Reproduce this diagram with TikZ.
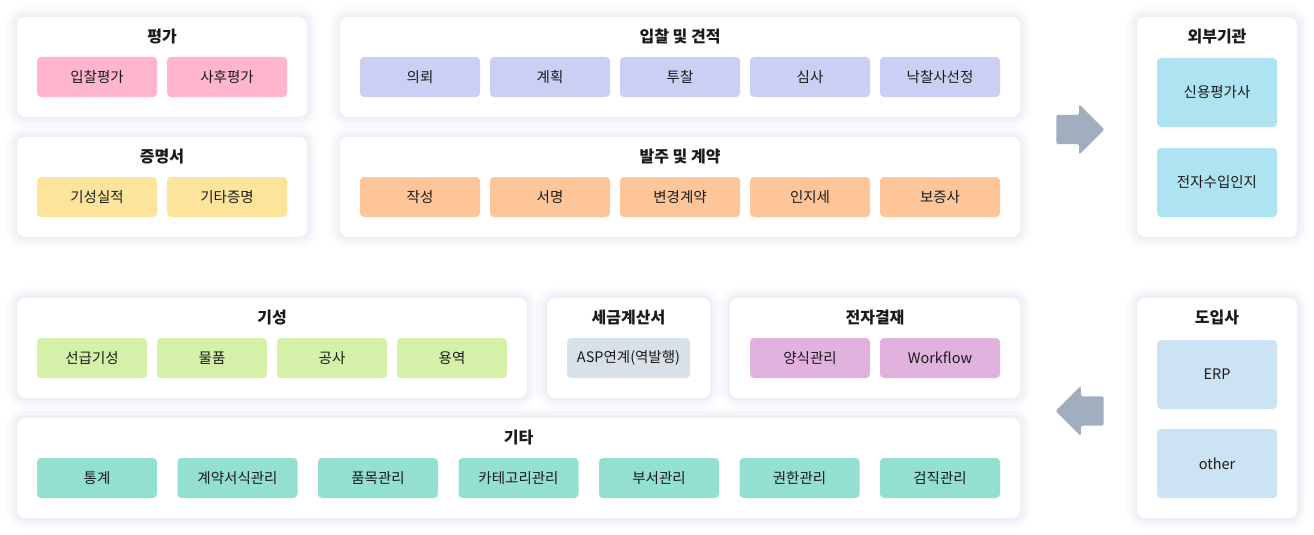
\documentclass[tikz,border=0pt]{standalone}
\usepackage{fontspec}
\setmainfont{Noto Sans CJK KR}
\usepackage{xcolor}
\usetikzlibrary{shapes,arrows,positioning}

\definecolor{pinkfill}{HTML}{FFB5CB}
\definecolor{yellowfill}{HTML}{FCE49A}
\definecolor{lavenderfill}{HTML}{CAD0F4}
\definecolor{peachfill}{HTML}{FDC598}
\definecolor{cyanfill}{HTML}{AEE3F2}
\definecolor{greenfill}{HTML}{D5F0A8}
\definecolor{grayfill}{HTML}{D9E1E8}
\definecolor{orchidfill}{HTML}{E2B2DE}
\definecolor{tealfill}{HTML}{93DFD0}
\definecolor{bluefill}{HTML}{CCE3F4}
\definecolor{arrowgray}{HTML}{A1AEBF}
\definecolor{textdark}{HTML}{1A1A1A}
\definecolor{halo}{HTML}{B8C0DC}

\tikzset{
    card/.style={fill=white, rounded corners=8pt, inner sep=0pt,
        preaction={draw=halo, draw opacity=0.05, line width=22pt},
        preaction={draw=halo, draw opacity=0.07, line width=14pt},
        preaction={draw=halo, draw opacity=0.08, line width=7pt},
        preaction={draw=halo, draw opacity=0.07, line width=2pt}},
    cardtitle/.style={font=\bfseries\fontsize{16}{19}\selectfont, text=textdark},
    item/.style={rounded corners=4pt, inner sep=0pt, minimum width=120pt, minimum height=40pt,
        font=\fontsize{14.5}{17}\selectfont, text=textdark},
    bigarrow/.style={single arrow, fill=arrowgray, rounded corners=2pt, inner sep=14.5pt,
        single arrow head extend=10.5pt, minimum height=48pt}
}

\begin{document}
\begin{tikzpicture}[x=1pt, y=-1pt]
    \fill [white] (0,0) rectangle (1314,535);
    \useasboundingbox (0,0) rectangle (1314,535);

    % Evaluation card
    \node [card, minimum width=290pt, minimum height=100pt] (evalcard) at (162,67) {};
    \node [cardtitle] (evaltitle) at ([yshift=-20pt]evalcard.north) {평가};
    \foreach \i/\label in {0/입찰평가, 1/사후평가} {
        \node [item, fill=pinkfill] (eval\i) at (97+\i*130, 77) {\label};
    }

    % Certificate card
    \node [card, minimum width=290pt, minimum height=100pt] (certcard) at (162,187) {};
    \node [cardtitle] (certtitle) at ([yshift=-20pt]certcard.north) {증명서};
    \foreach \i/\label in {0/기성실적, 1/기타증명} {
        \node [item, fill=yellowfill] (cert\i) at (97+\i*130, 197) {\label};
    }

    % Bidding card
    \node [card, minimum width=680pt, minimum height=100pt] (bidcard) at (680,67) {};
    \node [cardtitle] (bidtitle) at ([yshift=-20pt]bidcard.north) {입찰 및 견적};
    \foreach \i/\label in {0/의뢰, 1/계획, 2/투찰, 3/심사, 4/낙찰사선정} {
        \node [item, fill=lavenderfill] (bid\i) at (420+\i*130, 77) {\label};
    }

    % Order and contract card
    \node [card, minimum width=680pt, minimum height=100pt] (ordercard) at (680,187) {};
    \node [cardtitle] (ordertitle) at ([yshift=-20pt]ordercard.north) {발주 및 계약};
    \foreach \i/\label in {0/작성, 1/서명, 2/변경계약, 3/인지세, 4/보증사} {
        \node [item, fill=peachfill] (order\i) at (420+\i*130, 197) {\label};
    }

    % External agencies card
    \node [card, minimum width=160pt, minimum height=220pt] (extcard) at (1217,127) {};
    \node [cardtitle] (exttitle) at ([yshift=-20pt]extcard.north) {외부기관};
    \foreach \i/\label in {0/신용평가사, 1/전자수입인지} {
        \node [item, fill=cyanfill, minimum height=69pt] (ext\i) at (1217, 92.5+\i*90) {\label};
    }

    % Progress payment card
    \node [card, minimum width=510pt, minimum height=100pt] (progcard) at (272,348) {};
    \node [cardtitle] (progtitle) at ([yshift=-20pt]progcard.north) {기성};
    \foreach \i/\label in {0/선급기성, 1/물품, 2/공사, 3/용역} {
        \node [item, fill=greenfill, minimum width=110pt] (prog\i) at (92+\i*120, 358) {\label};
    }

    % Tax invoice card
    \node [card, minimum width=163pt, minimum height=100pt] (taxcard) at (628.5,348) {};
    \node [cardtitle] (taxtitle) at ([yshift=-20pt]taxcard.north) {세금계산서};
    \node [item, fill=grayfill, minimum width=123pt] (tax0) at (628.5, 358) {ASP연계(역발행)};

    % Approval card
    \node [card, minimum width=290pt, minimum height=100pt] (apprcard) at (875,348) {};
    \node [cardtitle] (apprtitle) at ([yshift=-20pt]apprcard.north) {전자결재};
    \foreach \i/\label in {0/양식관리, 1/Workflow} {
        \node [item, fill=orchidfill] (appr\i) at (810+\i*130, 358) {\label};
    }

    % Misc card
    \node [card, minimum width=1003pt, minimum height=100pt] (misccard) at (518.5,468) {};
    \node [cardtitle] (misctitle) at ([yshift=-20pt]misccard.north) {기타};
    \foreach \i/\label in {0/통계, 1/계약서식관리, 2/품목관리, 3/카테고리관리, 4/부서관리, 5/권한관리, 6/검직관리} {
        \node [item, fill=tealfill] (misc\i) at (97+\i*140.5, 478) {\label};
    }

    % Adopter card
    \node [card, minimum width=160pt, minimum height=220pt] (adoptcard) at (1217,408) {};
    \node [cardtitle] (adopttitle) at ([yshift=-20pt]adoptcard.north) {도입사};
    \foreach \i/\label in {0/ERP, 1/other} {
        \node [item, fill=bluefill, minimum height=69pt] (adopt\i) at (1217, 374.5+\i*89) {\label};
    }

    % Arrows
    \node [bigarrow] (toext) at (1073,129.5) {};
    \node [bigarrow, shape border rotate=180] (fromadopt) at (1087,411) {};
\end{tikzpicture}
\end{document}
